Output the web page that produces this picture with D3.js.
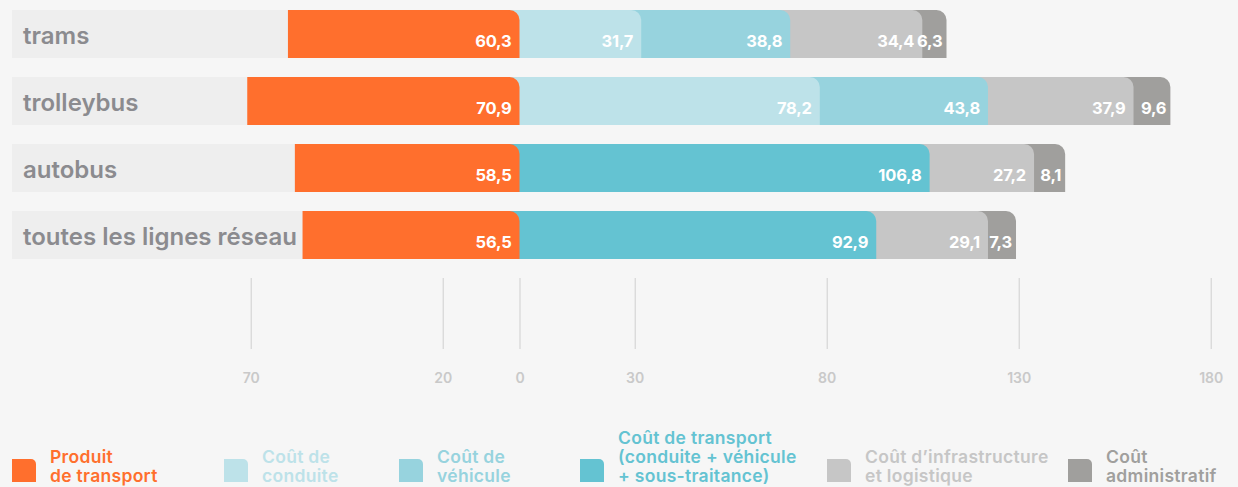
<!DOCTYPE html>
<html>
<head>
<meta charset="utf-8">
<script src="https://cdn.jsdelivr.net/npm/d3@7"></script>
<style>
  html, body { margin: 0; padding: 0; background: #f6f6f6; }
  svg { display: block; font-family: Inter, "Noto Sans", sans-serif; }
</style>
</head>
<body>
<script>
// categories and values
const categories = ["trams", "trolleybus", "autobus", "toutes les lignes réseau"];
const produit = [60.3, 70.9, 58.5, 56.5];
const conduite = [31.7, 78.2, null, null];
const vehicule = [38.8, 43.8, null, null];
const transport = [null, null, 106.8, 92.9];
const infrastructure = [34.4, 37.9, 27.2, 29.1];
const administratif = [6.3, 9.6, 8.1, 7.3];
const tickValues = [-70, -20, 0, 30, 80, 130, 180];

const costSeries = [
  {key: "conduite", values: conduite, color: "#bde2e9"},
  {key: "vehicule", values: vehicule, color: "#97d3de"},
  {key: "transport", values: transport, color: "#64c3d2"},
  {key: "infrastructure", values: infrastructure, color: "#c6c6c6"},
  {key: "administratif", values: administratif, color: "#a09f9d"}
];

const legendItems = [
  {lines: ["Produit", "de transport"], color: "#ff6f2d", x: 12},
  {lines: ["Coût de", "conduite"], color: "#bde2e9", x: 224},
  {lines: ["Coût de", "véhicule"], color: "#97d3de", x: 399},
  {lines: ["Coût de transport", "(conduite + véhicule", "+ sous-traitance)"], color: "#64c3d2", x: 580},
  {lines: ["Coût d’infrastructure", "et logistique"], color: "#c6c6c6", x: 827},
  {lines: ["Coût", "administratif"], color: "#a09f9d", x: 1068}
];

const width = 1238, height = 487;
const orange = "#ff6f2d";
const radius = 10;
const fmt = v => d3.format(".1f")(v).replace(".", ",");

const x = d3.scaleLinear().domain([-70, 180]).range([250.7, 1210.7]);
const y = d3.scaleBand().domain(categories).range([10, 259]).paddingInner(19 / 67);

// path with only the top-right corner rounded
function roundRight(x0, x1, y0, h, r) {
  r = Math.min(r, x1 - x0);
  return `M${x0},${y0 + h}V${y0}H${x1 - r}A${r},${r} 0 0 1 ${x1},${y0 + r}V${y0 + h}Z`;
}

const svg = d3.select("body").append("svg")
  .attr("width", width)
  .attr("height", height)
  .attr("viewBox", [0, 0, width, height]);

svg.append("rect").attr("width", width).attr("height", height).attr("fill", "#f6f6f6");

// axis
const axis = d3.axisBottom(x)
  .tickValues(tickValues)
  .tickFormat(d => Math.abs(d))
  .tickSize(71)
  .tickPadding(24);

svg.append("g")
  .attr("transform", "translate(0,278)")
  .call(axis)
  .call(g => g.select(".domain").remove())
  .call(g => g.selectAll(".tick line").attr("stroke", "#cfcfcf").attr("stroke-width", 1))
  .call(g => g.selectAll(".tick text")
    .attr("fill", "#c9c9c9")
    .attr("font-size", 14)
    .attr("font-weight", 600)
    .attr("font-family", "Inter, sans-serif"));

// rows
const rows = svg.append("g").selectAll("g")
  .data(categories)
  .join("g")
  .attr("transform", d => `translate(0,${y(d)})`);

const bh = y.bandwidth();

rows.append("rect")
  .attr("x", 12)
  .attr("width", x(0) - 12)
  .attr("height", bh)
  .attr("fill", "#eeeeee");

rows.append("text")
  .attr("x", 23)
  .attr("y", bh / 2 + 10)
  .attr("fill", "#8b8b8f")
  .attr("font-size", 24)
  .attr("font-weight", 600)
  .text(d => d);

rows.each(function(cat, i) {
  const g = d3.select(this);
  // stack the cost segments
  let acc = 0;
  const segs = [];
  costSeries.forEach(s => {
    const v = s.values[i];
    if (v == null) return;
    segs.push({start: acc, end: acc + v, value: v, color: s.color});
    acc += v;
  });
  // outermost first so each rounded corner sits on top of the next segment
  segs.slice().reverse().forEach(s => {
    g.append("path")
      .attr("d", roundRight(x(0) - radius, x(s.end), 0, bh, radius))
      .attr("fill", s.color);
  });
  segs.forEach((s, j) => {
    g.append("text")
      .attr("x", x(s.end) - (j === segs.length - 1 ? 4 : 8))
      .attr("y", bh - 11.3)
      .attr("text-anchor", "end")
      .attr("fill", "#fff")
      .attr("font-size", 16.5)
      .attr("font-weight", 700)
      .attr("letter-spacing", -0.2)
      .text(fmt(s.value));
  });
  // produit de transport goes left from 0
  g.append("path")
    .attr("d", roundRight(x(-produit[i]), x(0), 0, bh, radius))
    .attr("fill", orange);
  g.append("text")
    .attr("x", x(0) - 8)
    .attr("y", bh - 11.3)
    .attr("text-anchor", "end")
    .attr("fill", "#fff")
    .attr("font-size", 16.5)
    .attr("font-weight", 700)
    .attr("letter-spacing", -0.2)
    .text(fmt(produit[i]));
});

// legend
const legend = svg.append("g").selectAll("g")
  .data(legendItems)
  .join("g")
  .attr("transform", d => `translate(${d.x},0)`);

legend.append("path")
  .attr("d", roundRight(0, 24, 459, 23, 5))
  .attr("fill", d => d.color);

legend.each(function(d) {
  const n = d.lines.length;
  d3.select(this).selectAll("text")
    .data(d.lines)
    .join("text")
    .attr("x", 38)
    .attr("y", (l, k) => 482 - (n - 1 - k) * 19)
    .attr("fill", d.color)
    .attr("font-size", 17.5)
    .attr("font-weight", 600)
    .attr("letter-spacing", 0.3)
    .text(l => l);
});
</script>
</body>
</html>
